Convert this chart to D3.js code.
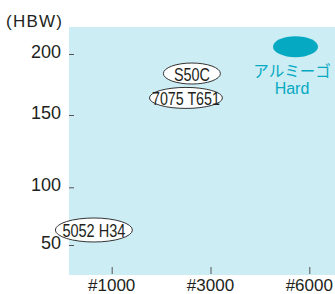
<!DOCTYPE html>
<html><head><meta charset="utf-8">
<script src="https://cdn.jsdelivr.net/npm/d3@7"></script>
<style>html,body{margin:0;padding:0;background:#fff;}</style>
</head><body>
<script>
// ---- data ----
const gritLabels = ["#1000", "#3000", "#6000"];
const hardnessTicks = [200, 150, 100, 50];
const materials = ["5052 H34", "S50C", "7075 T651", "アルミーゴ Hard"];
const gritPositions = [-0.18, 0.81, 0.75, 1.86];   // position along grit axis (0=#1000,1=#3000,2=#6000)
const hardness = [63, 184, 164, 206];               // HBW
const unitLabel = "(HBW)";

// ---- layout / style ----
const W = 335, H = 294;
const plot = {left: 69, top: 27, right: 335, bottom: 275};
const bg = "#cdedf5", teal = "#05a9c1", ink = "#231f20";
const ellipseStyle = [
  {rx: 38.5, ry: 12, textW: 63},
  {rx: 28.5, ry: 10.5, textW: 36},
  {rx: 36.5, ry: 10.5, textW: 68},
  {rx: 22.5, ry: 10.5}
];

const svg = d3.select("body").append("svg").attr("width", W).attr("height", H);

svg.append("rect").attr("x", plot.left).attr("y", plot.top)
  .attr("width", plot.right - plot.left).attr("height", plot.bottom - plot.top)
  .attr("fill", bg);

const xIdx = d3.scaleLinear().domain([0, 1, 2]).range([111.7, 210.7, 309.3]);
const xBand = d3.scalePoint().domain(gritLabels).range([111.7, 309.3]);
const y = d3.scaleLinear().domain([200, 150, 100, 50]).range([54, 115, 187.3, 245]);

// y axis
const yAxis = svg.append("g").attr("transform", `translate(${plot.left},0)`)
  .call(d3.axisRight(y).tickValues(hardnessTicks).tickSize(5).tickFormat(""));
yAxis.select(".domain").remove();
yAxis.selectAll(".tick line").attr("stroke", "#555").attr("stroke-width", 1);
svg.append("g").selectAll("text").data(hardnessTicks).join("text")
  .attr("x", 61).attr("y", d => y(d) - 2)
  .attr("text-anchor", "end").attr("dominant-baseline", "central")
  .attr("font-family", "Liberation Sans, Arial, sans-serif").attr("font-size", 18)
  .attr("fill", ink).text(d => d);

svg.append("text").attr("x", 6).attr("y", 21).attr("dominant-baseline", "central")
  .attr("font-family", "Liberation Sans, Arial, sans-serif").attr("font-size", 17)
  .attr("textLength", 56).attr("lengthAdjust", "spacing")
  .attr("fill", ink).text(unitLabel);

// x axis
const xAxis = svg.append("g").attr("transform", `translate(0,${plot.bottom - 1})`)
  .call(d3.axisTop(xBand).tickSize(7).tickFormat(""));
xAxis.select(".domain").remove();
xAxis.selectAll(".tick line").attr("stroke", "#555");
svg.append("g").selectAll("text").data(gritLabels).join("text")
  .attr("x", d => xBand(d)).attr("y", 285).attr("text-anchor", "middle")
  .attr("dominant-baseline", "central")
  .attr("font-family", "Liberation Sans, Arial, sans-serif").attr("font-size", 17)
  .attr("fill", ink).text(d => d);

// material ellipses
const idx = d3.range(materials.length);
const g = svg.append("g");
idx.slice(0, 3).forEach(i => {
  const cx = xIdx(gritPositions[i]), cy = y(hardness[i]);
  g.append("ellipse").attr("cx", cx).attr("cy", cy)
    .attr("rx", ellipseStyle[i].rx).attr("ry", ellipseStyle[i].ry)
    .attr("fill", "#fff").attr("stroke", "#333").attr("stroke-width", 1);
  g.append("text").attr("x", cx - ellipseStyle[i].textW / 2).attr("y", cy + 1)
    .attr("dominant-baseline", "central")
    .attr("textLength", ellipseStyle[i].textW).attr("lengthAdjust", "spacingAndGlyphs")
    .attr("font-family", "Liberation Sans, Arial, sans-serif")
    .attr("font-size", 18).attr("fill", ink).text(materials[i]);
});
// highlighted product
{
  const i = 3, cx = xIdx(gritPositions[i]), cy = y(hardness[i]);
  g.append("ellipse").attr("cx", cx).attr("cy", cy)
    .attr("rx", ellipseStyle[i].rx).attr("ry", ellipseStyle[i].ry).attr("fill", teal);
  const parts = materials[i].split(" ");
  g.append("text").attr("x", cx - 3.5).attr("y", cy + 23).attr("text-anchor", "middle")
    .attr("dominant-baseline", "central")
    .attr("font-family", "Noto Sans CJK JP, sans-serif").attr("font-size", 15.5)
    .attr("fill", teal).text(parts[0]);
  g.append("text").attr("x", cx - 3.5).attr("y", cy + 42).attr("text-anchor", "middle")
    .attr("dominant-baseline", "central")
    .attr("font-family", "Liberation Sans, Arial, sans-serif").attr("font-size", 16)
    .attr("fill", teal).text(parts[1]);
}
</script>
</body></html>
